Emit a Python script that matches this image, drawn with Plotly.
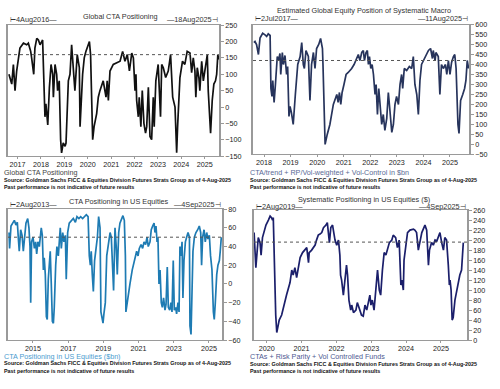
import plotly.graph_objects as go

# ---------------- data ----------------
# Panel 1: Global CTA Positioning
cta_glob_t = [2016.63, 2016.75, 2016.82, 2016.89, 2016.96, 2017.10, 2017.25, 2017.39, 2017.46, 2017.56,
              2017.60, 2017.69, 2017.74, 2017.82, 2017.89, 2017.96, 2018.07, 2018.17, 2018.21, 2018.29,
              2018.36, 2018.43, 2018.50, 2018.53, 2018.60, 2018.67, 2018.71, 2018.78, 2018.84, 2018.88,
              2018.95, 2019.03, 2019.07, 2019.17, 2019.24, 2019.31, 2019.38, 2019.45, 2019.55, 2019.64,
              2019.67, 2019.74, 2019.78, 2019.85, 2019.92, 2020.07, 2020.12, 2020.21, 2020.27, 2020.38,
              2020.45, 2020.52, 2020.66, 2020.78, 2020.83, 2020.88, 2020.95, 2021.09, 2021.23, 2021.38,
              2021.49, 2021.59, 2021.69, 2021.78, 2021.88, 2021.95, 2022.02, 2022.06, 2022.09, 2022.16,
              2022.20, 2022.27, 2022.33, 2022.40, 2022.47, 2022.52, 2022.59, 2022.66, 2022.73, 2022.80,
              2022.84, 2022.91, 2023.01, 2023.11, 2023.16, 2023.23, 2023.33, 2023.44, 2023.54, 2023.63,
              2023.73, 2023.80, 2023.84, 2023.94, 2024.05, 2024.15, 2024.25, 2024.37, 2024.44, 2024.51,
              2024.58, 2024.62, 2024.68, 2024.75, 2024.79, 2024.87, 2024.94, 2025.11, 2025.15, 2025.25,
              2025.32, 2025.39, 2025.46, 2025.51, 2025.56, 2025.60]
cta_glob_v = [100, 70, 130, 50, 110, 180, 195, 190, 195, 170,
              150, 100, 180, 210, 205, 190, 205, -30, 10, -55,
              60, 130, 100, 30, 130, 100, 50, 80, -100, -140,
              -110, -120, -110, 80, 100, 190, 120, 50, 160, 120,
              -60, 70, 100, 150, 170, 200, 160, -100, -60, -20,
              30, 50, 80, 30, 80, 20, 110, 130, 135, 140,
              170, 140, 160, 110, 165, 150, 50, 100, 20, -30,
              30, -60, 50, -50, -80, -60, 60, -90, -100, 30,
              -60, 80, 130, -30, 130, 120, 90, 110, 160, 30,
              0, -140, -60, 90, 140, 130, 170, 165, 105, 150,
              110, 30, 120, 90, 50, 140, 80, 160, 50, -80,
              20, 70, 80, 100, 160, 145]

# Panel 2: Estimated Global Equity Position of Systematic Macro ($bn)
macro_t = [2017.62, 2017.66, 2017.72, 2017.79, 2017.85, 2017.95, 2018.04, 2018.10, 2018.16, 2018.23,
           2018.26, 2018.30, 2018.33, 2018.38, 2018.43, 2018.50, 2018.55, 2018.60, 2018.63, 2018.69,
           2018.73, 2018.79, 2018.85, 2018.89, 2018.94, 2018.98, 2019.03, 2019.10, 2019.18, 2019.27,
           2019.36, 2019.42, 2019.48, 2019.52, 2019.58, 2019.67, 2019.73, 2019.79, 2019.86, 2019.92,
           2019.98, 2020.06, 2020.13, 2020.20, 2020.22, 2020.30, 2020.38, 2020.48, 2020.61, 2020.74,
           2020.79, 2020.84, 2020.89, 2020.94, 2021.01, 2021.09, 2021.17, 2021.24, 2021.30, 2021.39,
           2021.46, 2021.55, 2021.61, 2021.68, 2021.74, 2021.78, 2021.84, 2021.89, 2021.93, 2021.97,
           2022.02, 2022.07, 2022.12, 2022.18, 2022.22, 2022.27, 2022.32, 2022.37, 2022.43, 2022.49,
           2022.55, 2022.62, 2022.68, 2022.74, 2022.81, 2022.87, 2022.93, 2022.99, 2023.06, 2023.12,
           2023.18, 2023.22, 2023.28, 2023.37, 2023.47, 2023.56, 2023.62, 2023.68, 2023.75, 2023.81,
           2023.87, 2023.93, 2024.00, 2024.10, 2024.19, 2024.27, 2024.34, 2024.37, 2024.44, 2024.47,
           2024.56, 2024.62, 2024.68, 2024.75, 2024.83, 2024.88, 2024.94, 2025.00, 2025.06, 2025.13,
           2025.18, 2025.23, 2025.25, 2025.30, 2025.34, 2025.40, 2025.48, 2025.55, 2025.60, 2025.65,
           2025.70]
macro_v = [510, 515, 500, 450, 532, 556, 548, 540, 553, 545,
           280, 240, 320, 210, 300, 440, 420, 455, 350, 460,
           400, 445, 350, 390, 140, 190, 160, 100, 250, 400,
           440, 510, 400, 380, 470, 440, 220, 400, 460, 380,
           480, 500, 530, 480, 400, 0, 50, 100, 200, 250,
           210, 260, 200, 260, 300, 350, 360, 370, 380, 400,
           420, 450, 420, 460, 470, 420, 460, 470, 400, 440,
           380, 400, 350, 250, 300, 150, 280, 180, 100, 150,
           70, 130, 260, 170, 60, 100, 200, 240, 200, 300,
           350, 280, 380, 370, 390, 380, 440, 300, 250, 150,
           320, 400, 420, 450, 470, 480, 430, 470, 420, 460,
           440, 250, 400, 380, 400, 350, 420, 350, 410, 440,
           450, 380, 300, 100, 55, 220, 250, 280, 320, 420,
           380]

# Panel 3: CTA Positioning in US Equities ($bn)
cta_us_t = [2013.64, 2013.67, 2013.75, 2013.84, 2013.94, 2014.03, 2014.11, 2014.17, 2014.22, 2014.30,
            2014.38, 2014.45, 2014.53, 2014.60, 2014.70, 2014.77, 2014.83, 2014.87, 2014.92, 2015.00,
            2015.08, 2015.15, 2015.21, 2015.28, 2015.36, 2015.42, 2015.47, 2015.53, 2015.59, 2015.64,
            2015.70, 2015.76, 2015.81, 2015.87, 2015.93, 2015.98, 2016.04, 2016.10, 2016.16, 2016.21,
            2016.29, 2016.36, 2016.44, 2016.50, 2016.55, 2016.61, 2016.69, 2016.76, 2016.84, 2016.89,
            2016.97, 2017.06, 2017.18, 2017.29, 2017.41, 2017.50, 2017.61, 2017.71, 2017.82, 2017.94,
            2018.03, 2018.13, 2018.20, 2018.26, 2018.31, 2018.37, 2018.43, 2018.50, 2018.58, 2018.66,
            2018.73, 2018.81, 2018.86, 2018.92, 2018.98, 2019.03, 2019.11, 2019.19, 2019.28, 2019.38,
            2019.45, 2019.53, 2019.58, 2019.66, 2019.73, 2019.79, 2019.87, 2019.94, 2020.04, 2020.11,
            2020.19, 2020.25, 2020.28, 2020.38, 2020.51, 2020.64, 2020.80, 2020.89, 2020.97, 2021.04,
            2021.14, 2021.23, 2021.31, 2021.40, 2021.48, 2021.55, 2021.65, 2021.72, 2021.80, 2021.88,
            2021.93, 2021.99, 2022.05, 2022.10, 2022.16, 2022.22, 2022.29, 2022.35, 2022.42, 2022.50,
            2022.56, 2022.63, 2022.69, 2022.77, 2022.84, 2022.90, 2022.97, 2023.03, 2023.11, 2023.16,
            2023.24, 2023.30, 2023.35, 2023.41, 2023.47, 2023.52, 2023.58, 2023.66, 2023.73, 2023.81,
            2023.89, 2023.92, 2023.98, 2024.03, 2024.09, 2024.17, 2024.26, 2024.36, 2024.45, 2024.53,
            2024.58, 2024.64, 2024.72, 2024.79, 2024.87, 2024.94, 2025.02, 2025.09, 2025.17, 2025.25,
            2025.30, 2025.36, 2025.44, 2025.51, 2025.59, 2025.64, 2025.70]
cta_us_v = [55, 38, 62, 65, 68, 63, 66, 48, 35, 58,
            52, 35, 55, 65, 70, 60, 40, -20, 45, 50,
            38, 45, 32, 45, 40, 55, 60, 52, 15, 28,
            10, -35, -38, 5, 25, 35, 0, -40, -42, -25,
            20, 40, 30, 45, 60, 38, 55, 45, 52, 5,
            55, 65, 68, 70, 66, 72, 70, 72, 70, 73,
            74, 72, 30, 20, 35, 10, -8, 25, 40, 50,
            72, 60, -30, -38, -42, -32, -20, 30, 45, 55,
            50, 15, -7, 60, 40, 10, 55, 65, 70, 73,
            68, 30, -30, -15, 0, 15, 28, 35, 30, 38,
            42, 38, 45, 42, 50, 40, 45, 58, 62, 65,
            55, 62, 45, 50, 0, 15, -20, -25, -15, -28,
            -22, 18, -25, -28, -20, -30, 25, -28, -25, -32,
            -20, -30, 40, 30, 45, -15, 25, 45, 50, 55,
            50, -45, -54, -20, 35, 50, 55, 58, 62, 55,
            20, 50, 58, 45, 55, 48, 52, 30, 15, -30,
            -38, -20, 10, 20, 25, 35, 50]

# Panel 4: Systematic Positioning in US Equities ($bn)
sys_us_t = [2019.64, 2019.67, 2019.69, 2019.73, 2019.76, 2019.81, 2019.84, 2019.88, 2019.92, 2019.98,
            2020.05, 2020.10, 2020.14, 2020.17, 2020.19, 2020.22, 2020.26, 2020.29, 2020.32, 2020.36,
            2020.43, 2020.48, 2020.57, 2020.67, 2020.72, 2020.76, 2020.81, 2020.86, 2020.91, 2020.96,
            2021.03, 2021.10, 2021.15, 2021.20, 2021.22, 2021.29, 2021.34, 2021.39, 2021.43, 2021.48,
            2021.53, 2021.58, 2021.63, 2021.70, 2021.74, 2021.80, 2021.84, 2021.89, 2021.96, 2022.01,
            2022.06, 2022.10, 2022.12, 2022.15, 2022.20, 2022.25, 2022.29, 2022.32, 2022.36, 2022.41,
            2022.44, 2022.49, 2022.56, 2022.60, 2022.66, 2022.72, 2022.77, 2022.82, 2022.87, 2022.92,
            2022.96, 2022.99, 2023.03, 2023.08, 2023.14, 2023.18, 2023.23, 2023.27, 2023.32, 2023.37,
            2023.42, 2023.46, 2023.52, 2023.59, 2023.63, 2023.70, 2023.75, 2023.80, 2023.82, 2023.85,
            2023.88, 2023.92, 2023.94, 2024.00, 2024.04, 2024.11, 2024.21, 2024.25, 2024.30, 2024.35,
            2024.40, 2024.45, 2024.51, 2024.54, 2024.59, 2024.64, 2024.67, 2024.70, 2024.73, 2024.78,
            2024.83, 2024.88, 2024.92, 2024.97, 2025.02, 2025.07, 2025.11, 2025.16, 2025.21, 2025.24,
            2025.26, 2025.29, 2025.32, 2025.35, 2025.40, 2025.45, 2025.50, 2025.54, 2025.59, 2025.64]
sys_us_v = [215, 150, 145, 180, 205, 195, 170, 205, 215, 230,
            240, 248, 245, 240, 245, 150, 50, 15, 25, 40,
            50, 65, 90, 115, 140, 130, 145, 125, 150, 165,
            175, 180, 185, 155, 175, 180, 185, 190, 200, 210,
            212, 215, 225, 230, 235, 195, 225, 230, 200, 190,
            200, 170, 130, 120, 90, 120, 150, 130, 80, 60,
            70, 55, 60, 75, 60, 50, 48, 70, 60, 80,
            90, 70, 80, 60, 120, 140, 100, 90, 140, 175,
            170, 180, 195, 200, 210, 205, 185, 200, 140, 110,
            120, 100, 160, 200, 215, 220, 222, 220, 215, 180,
            200, 215, 225, 230, 220, 150, 180, 190, 195, 190,
            200, 198, 205, 215, 195, 180, 205, 200, 150, 110,
            120, 100, 40, 45, 80, 100, 115, 130, 140, 195]

ref_levels = [160, 420, 50, 196]

titles = ["Global CTA Positioning",
          "Estimated Global Equity Position of Systematic Macro",
          "CTA Positioning in US Equities",
          "Systematic Positioning in US Equities ($)"]
start_labels = ["⊢4Aug2016—", "⊢2Jul2017—", "⊢2Aug2013—", "⊢2Aug2019—"]
end_labels = ["—18Aug2025⊣", "—11Aug2025⊣", "—4Sep2025⊣", "—4Sep2025⊣"]
series_labels = ["Global CTA Positioning",
                 "CTA/trend + RP/Vol-weighted + Vol-Control in $bn",
                 "CTA Positioning in US Equities ($bn)",
                 "CTAs + Risk Parity + Vol Controlled Funds"]
source_text = "Source: Goldman Sachs FICC & Equities Division Futures Strats Group as of 4-Aug-2025"
past_text = "Past performance is not indicative of future results"

x_ticks = [[2017, 2018, 2019, 2020, 2021, 2022, 2023, 2024, 2025],
           [2018, 2019, 2020, 2021, 2022, 2023, 2024, 2025],
           [2015, 2017, 2019, 2021, 2023, 2025],
           [2020, 2021, 2022, 2023, 2024, 2025]]
y_ticks = [list(range(-150, 251, 50)), list(range(-50, 601, 50)),
           list(range(-60, 81, 20)), list(range(0, 261, 20))]

# ---------------- styling / geometry ----------------
W, H = 500, 389
FONT = "Liberation Sans, Arial, sans-serif"
line_colors = ["#111111", "#27345C", "#1E7BB3", "#1B1F6B"]
label_colors = ["#444444", "#5A6A95", "#4C9CCF", "#4F5A92"]

# plot boxes in pixels: (left, right, top, bottom)
boxes = [(8, 219, 21.7, 155.7), (253, 469, 21, 154), (8, 222, 210, 344), (254, 467, 211, 344)]
x_ranges = [[2016.59, 2025.61], [2017.586, 2025.716], [2013.58, 2025.74], [2019.637, 2025.746]]
y_ranges = [[-150, 250], [-50, 600], [-60, 80], [0, 260]]
title_pos = [(120, 13), (364, 7), (119, 202), (364, 200)]
date_y = [16, 15, 205, 207]
label_y = [(172.5, 180, 187), (172.5, 180, 187), (360.5, 368, 375.5), (361, 368.5, 376)]
label_x = [2, 248, 2, 248]

xs = [cta_glob_t, macro_t, cta_us_t, sys_us_t]
ys = [cta_glob_v, macro_v, cta_us_v, sys_us_v]

fig = go.Figure()
annotations = []
shapes = []
layout_axes = {}

for i in range(4):
    n = "" if i == 0 else str(i + 1)
    xa, ya = "x" + n, "y" + n
    fig.add_trace(go.Scatter(x=xs[i], y=ys[i], mode="lines", xaxis=xa, yaxis=ya,
                             line=dict(color=line_colors[i], width=1.7), showlegend=False,
                             hoverinfo="skip"))
    l, r, t, b = boxes[i]
    layout_axes["xaxis" + n] = dict(
        domain=[l / W, r / W], range=x_ranges[i], anchor=ya,
        tickvals=x_ticks[i], ticktext=[str(v) for v in x_ticks[i]],
        showgrid=False, zeroline=False, showline=True, linecolor="#9a9a9a", linewidth=1,
        mirror=True, ticks="outside", ticklen=2, tickcolor="#9a9a9a", ticklabelstandoff=-1,
        tickfont=dict(size=7.2, color="#222", family=FONT))
    layout_axes["yaxis" + n] = dict(
        domain=[1 - b / H, 1 - t / H], range=y_ranges[i], anchor=xa, side="right",
        tickvals=y_ticks[i], showgrid=False, zeroline=False, showline=True,
        linecolor="#9a9a9a", linewidth=1.5, mirror=True, ticks="outside", ticklen=3,
        tickcolor="#9a9a9a", tickfont=dict(size=7.2, color="#222", family=FONT))
    shapes.append(dict(type="line", xref=xa + " domain", yref=ya, x0=0, x1=1,
                       y0=ref_levels[i], y1=ref_levels[i],
                       line=dict(color="#555555", width=1, dash="dot")))
    # title
    tx, ty = title_pos[i]
    annotations.append(dict(text=titles[i], x=tx / W, y=1 - ty / H, xref="paper", yref="paper",
                            showarrow=False, xanchor="center", yanchor="middle",
                            font=dict(size=7.3, color="#333", family=FONT)))
    annotations.append(dict(text=start_labels[i], x=l / W, y=1 - date_y[i] / H, xref="paper",
                            yref="paper", showarrow=False, xanchor="left", yanchor="middle",
                            font=dict(size=7.3, color="#333", family=FONT)))
    annotations.append(dict(text=end_labels[i], x=(r + 1) / W, y=1 - date_y[i] / H, xref="paper",
                            yref="paper", showarrow=False, xanchor="right", yanchor="middle",
                            font=dict(size=7.3, color="#333", family=FONT)))
    ly1, ly2, ly3 = label_y[i]
    annotations.append(dict(text=series_labels[i], x=label_x[i] / W, y=1 - ly1 / H, xref="paper",
                            yref="paper", showarrow=False, xanchor="left", yanchor="middle",
                            font=dict(size=7.2, color=label_colors[i], family=FONT)))
    annotations.append(dict(text="<b>" + source_text + "</b>", x=label_x[i] / W, y=1 - ly2 / H,
                            xref="paper", yref="paper", showarrow=False, xanchor="left",
                            yanchor="middle", font=dict(size=5.4, color="#111", family=FONT)))
    annotations.append(dict(text="<b>" + past_text + "</b>", x=label_x[i] / W, y=1 - ly3 / H,
                            xref="paper", yref="paper", showarrow=False, xanchor="left",
                            yanchor="middle", font=dict(size=5.4, color="#111", family=FONT)))

fig.update_layout(width=W, height=H, margin=dict(l=0, r=0, t=0, b=0),
                  paper_bgcolor="white", plot_bgcolor="white",
                  annotations=annotations, shapes=shapes, **layout_axes)

fig.write_html("out.html", config={"displayModeBar": False},
               post_script="document.body.style.margin='0';document.body.style.overflow='hidden';")
